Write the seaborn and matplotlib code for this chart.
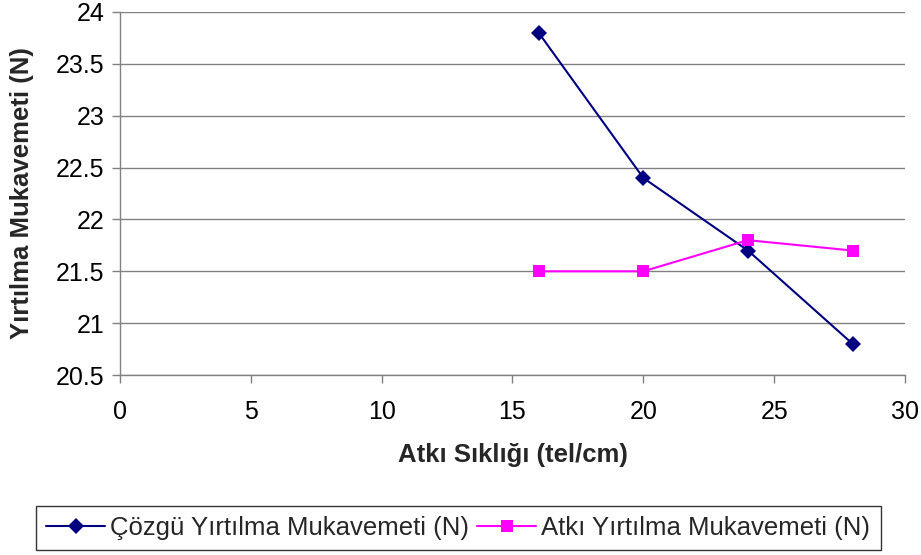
import matplotlib
matplotlib.use("Agg")
import matplotlib.pyplot as plt
import seaborn as sns
import pandas as pd

# data
atki_sikligi = [16, 20, 24, 28]
cozgu_yirtilma = [23.8, 22.4, 21.7, 20.8]
atki_yirtilma = [21.5, 21.5, 21.8, 21.7]
series_names = ["Çözgü Yırtılma Mukavemeti (N)", "Atkı Yırtılma Mukavemeti (N)"]

df = pd.DataFrame({
    "x": atki_sikligi * 2,
    "y": cozgu_yirtilma + atki_yirtilma,
    "seri": [series_names[0]] * 4 + [series_names[1]] * 4,
})

sns.set_style("white")
plt.rcParams["font.family"] = ["Liberation Sans", "DejaVu Sans"]

fig = plt.figure(figsize=(9.21, 5.55), dpi=100)
ax = fig.add_axes([0.1303, 0.3243, 0.8523, 0.6541])

sns.lineplot(data=df, x="x", y="y", hue="seri", style="seri",
             palette=["#000080", "#FF00FF"], markers=["D", "s"], dashes=False,
             markersize=8, linewidth=1.5, markeredgewidth=0, ax=ax, legend=False)

ax.set_xlim(0, 30)
ax.set_ylim(20.5, 24)
ax.set_xticks(range(0, 31, 5))
ax.set_yticks([20.5, 21, 21.5, 22, 22.5, 23, 23.5, 24])
ax.set_yticklabels(["20.5", "21", "21.5", "22", "22.5", "23", "23.5", "24"])
ax.yaxis.grid(True, color="#808080", linewidth=1)
ax.set_axisbelow(True)
for s in ["top", "right"]:
    ax.spines[s].set_visible(False)
for s in ["left", "bottom"]:
    ax.spines[s].set_color("#808080")
    ax.spines[s].set_linewidth(1)
ax.tick_params(axis="both", direction="out", length=6, width=1, color="#808080",
               labelsize=18, left=True, bottom=True, labelcolor="#000000")
ax.tick_params(axis="x", pad=12)
ax.tick_params(axis="y", pad=5)

ax.set_xlabel("Atkı Sıklığı (tel/cm)", fontsize=18.5, fontweight="bold", va="center")
ax.set_ylabel("Yırtılma Mukavemeti (N)", fontsize=18.5, fontweight="bold", va="center")
ax.xaxis.set_label_coords(0.5, -0.22)
ax.yaxis.set_label_coords(-0.125, 0.5)

handles = [plt.Line2D([], [], color="#000080", marker="D", markersize=8, linewidth=1.5, markeredgewidth=0),
           plt.Line2D([], [], color="#FF00FF", marker="s", markersize=8, linewidth=1.5, markeredgewidth=0)]
leg = fig.legend(handles, series_names, loc="center", bbox_to_anchor=(0.4975, 0.0486),
                 ncol=2, fontsize=18.5, frameon=True, fancybox=False, borderpad=0.4,
                 handlelength=2.3, columnspacing=0.3, handletextpad=0.2, borderaxespad=0)
leg.get_frame().set_edgecolor("#000000")
leg.get_frame().set_linewidth(1)

fig.savefig("out.png", dpi=100)
